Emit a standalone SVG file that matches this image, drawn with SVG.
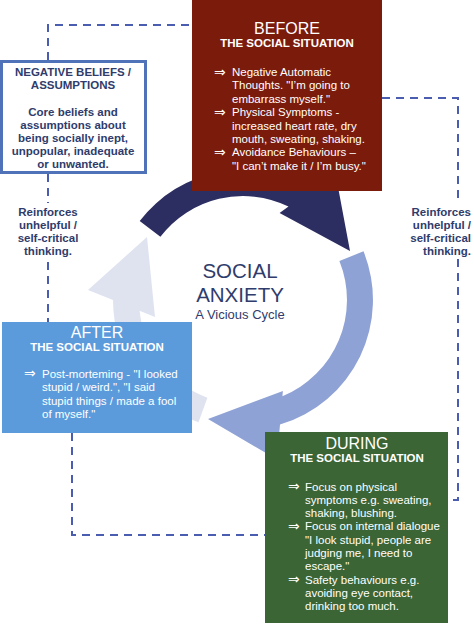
<svg xmlns="http://www.w3.org/2000/svg" width="474" height="627" viewBox="0 0 474 627">
<style>
text{font-family:"Liberation Sans","DejaVu Sans",Arial,sans-serif}
.dash{fill:none;stroke:#4a5db0;stroke-width:2;stroke-dasharray:8 6}
.nb{fill:#2f3c6c;font-weight:bold;font-size:11.5px;text-anchor:middle}
.rf{fill:#2f3c6c;font-weight:bold;font-size:11.5px}
.hd{fill:#fff;font-size:16px;text-anchor:middle}
.sub{fill:#fff;font-weight:bold;font-size:11.5px;text-anchor:middle}
.bt{fill:#fff;font-size:11.5px}
.ar{fill:#fff;font-size:14px;font-family:"DejaVu Sans",sans-serif}
</style>
<g id="connectors">
<path class="dash" d="M48,60 V25 H192"/>
<path class="dash" d="M48,174 V203 M48,262 V322"/>
<path class="dash" d="M382,98 H458 V204 M458,259 V500 H448"/>
<path class="dash" d="M72,433 V535 H265"/>
</g>
<g id="cycle-arrows">
<path id="arrow-after" fill="#dfe3f0" d="M198.5,422.2 A130,130 0 0 1 113,300 L88,290 L147,237 L155,317 L139.6,310.8 A104,104 0 0 0 207.4,397.7 Z"/>
<path id="arrow-before" fill="#2c2d60" d="M139.7,221 A130,130 0 0 1 311.7,189.6 L335.3,172.4 L350,251 L279.6,213 L288.5,206.5 A104,104 0 0 0 160.4,236.8 Z"/>
<path id="arrow-during" fill="#8fa2d5" d="M363.5,251.3 A130,130 0 0 1 280,424.6 L277,459.5 L208,419 L282.9,390.9 L282.4,396.2 A104,104 0 0 0 339.4,261 Z"/>
</g>
<g id="center-title">
<text x="240" y="278" font-size="20.5" fill="#2f3c6c" text-anchor="middle">SOCIAL</text>
<text x="240" y="302" font-size="20.5" fill="#2f3c6c" text-anchor="middle">ANXIETY</text>
<text x="240" y="319" font-size="13" fill="#2f3c6c" text-anchor="middle">A Vicious Cycle</text>
</g>
<g id="negative-beliefs">
<rect x="1.5" y="61.5" width="144" height="111" fill="#fff" stroke="#4f72b8" stroke-width="3"/>
<text class="nb" x="73" y="76">NEGATIVE BELIEFS /</text>
<text class="nb" x="73" y="89">ASSUMPTIONS</text>
<text class="nb" x="73" y="116">Core beliefs and</text>
<text class="nb" x="73" y="129">assumptions about</text>
<text class="nb" x="73" y="142">being socially inept,</text>
<text class="nb" x="73" y="155">unpopular, inadequate</text>
<text class="nb" x="73" y="168">or unwanted.</text>
</g>
<g id="reinforces-left">
<text class="rf" x="48" y="216" text-anchor="middle">Reinforces</text>
<text class="rf" x="48" y="229" text-anchor="middle">unhelpful /</text>
<text class="rf" x="48" y="242" text-anchor="middle">self-critical</text>
<text class="rf" x="48" y="255" text-anchor="middle">thinking.</text>
</g>
<g id="reinforces-right">
<text class="rf" x="471" y="216" text-anchor="end">Reinforces</text>
<text class="rf" x="471" y="229" text-anchor="end">unhelpful /</text>
<text class="rf" x="471" y="242" text-anchor="end">self-critical</text>
<text class="rf" x="471" y="255" text-anchor="end">thinking.</text>
</g>
<g id="before">
<rect x="192" y="0" width="190" height="191" fill="#7b1b0c"/>
<text class="hd" x="287" y="34">BEFORE</text>
<text class="sub" x="287" y="47">THE SOCIAL SITUATION</text>
<text class="ar" x="214" y="76.5">⇒</text>
<text class="bt" x="232" y="76">Negative Automatic</text>
<text class="bt" x="232" y="89.4">Thoughts. "I’m going to</text>
<text class="bt" x="232" y="102.8">embarrass myself."</text>
<text class="ar" x="214" y="116.7">⇒</text>
<text class="bt" x="232" y="116.2">Physical Symptoms -</text>
<text class="bt" x="232" y="129.6">increased heart rate, dry</text>
<text class="bt" x="232" y="143">mouth, sweating, shaking.</text>
<text class="ar" x="214" y="156.9">⇒</text>
<text class="bt" x="232" y="156.4">Avoidance Behaviours –</text>
<text class="bt" x="232" y="169.8">"I can’t make it / I’m busy."</text>
</g>
<g id="after">
<rect x="2" y="322" width="190" height="111" fill="#5b9bdc"/>
<text class="hd" x="97" y="338">AFTER</text>
<text class="sub" x="97" y="351">THE SOCIAL SITUATION</text>
<text class="ar" x="24" y="378">⇒</text>
<text class="bt" x="42" y="377.5">Post-morteming - "I looked</text>
<text class="bt" x="42" y="391">stupid / weird.", "I said</text>
<text class="bt" x="42" y="404.5">stupid things / made a fool</text>
<text class="bt" x="42" y="418">of myself."</text>
</g>
<g id="during">
<rect x="265" y="432" width="183" height="191" fill="#3b6535"/>
<text class="hd" x="357" y="449">DURING</text>
<text class="sub" x="357" y="462">THE SOCIAL SITUATION</text>
<text class="ar" x="288" y="491">⇒</text>
<text class="bt" x="305" y="490.5">Focus on physical</text>
<text class="bt" x="305" y="503.8">symptoms e.g. sweating,</text>
<text class="bt" x="305" y="517.1">shaking, blushing.</text>
<text class="ar" x="288" y="530.9">⇒</text>
<text class="bt" x="305" y="530.4">Focus on internal dialogue</text>
<text class="bt" x="305" y="543.7">"I look stupid, people are</text>
<text class="bt" x="305" y="557">judging me, I need to</text>
<text class="bt" x="305" y="570.3">escape."</text>
<text class="ar" x="288" y="584.1">⇒</text>
<text class="bt" x="305" y="583.6">Safety behaviours e.g.</text>
<text class="bt" x="305" y="596.9">avoiding eye contact,</text>
<text class="bt" x="305" y="610.2">drinking too much.</text>
</g>
</svg>
